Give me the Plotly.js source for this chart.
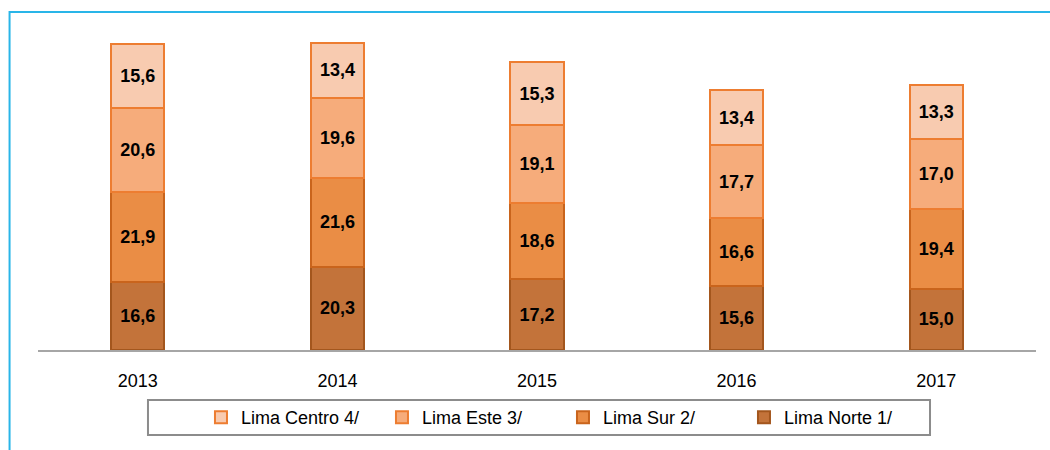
<!DOCTYPE html>
<html>
<head>
<meta charset="utf-8">
<script src="https://cdn.plot.ly/plotly-3.0.1.min.js"></script>
<style>
html,body{margin:0;padding:0;background:#fff;}
#chart{width:1050px;height:450px;}
</style>
</head>
<body>
<div id="chart"></div>
<script>
const years = ['2013', '2014', '2015', '2016', '2017'];
const limaNorte = [16.6, 20.3, 17.2, 15.6, 15.0];
const limaSur = [21.9, 21.6, 18.6, 16.6, 19.4];
const limaEste = [20.6, 19.6, 19.1, 17.7, 17.0];
const limaCentro = [15.6, 13.4, 15.3, 13.4, 13.3];
const seriesNames = ['Lima Norte 1/', 'Lima Sur 2/', 'Lima Este 3/', 'Lima Centro 4/'];

const FONT = '"Liberation Sans", Arial, sans-serif';
const fills = ['#c3733a', '#ea8d45', '#f6ac7b', '#f8cbb0'];
const lines = ['#a3561d', '#c9641c', '#ed7d31', '#ed7d31'];
const values = [limaNorte, limaSur, limaEste, limaCentro];

const traces = values.map((v, i) => ({
  type: 'bar',
  x: years,
  y: v,
  name: seriesNames[i],
  marker: {color: fills[i], line: {color: lines[i], width: 2}},
  texttemplate: '%{y:.1f}',
  textposition: 'inside',
  insidetextanchor: 'middle',
  textangle: 0,
  constraintext: 'none',
  textfont: {family: FONT, size: 18, color: '#000', weight: 'bold'},
  hoverinfo: 'x+y+name'
}));

const layout = {
  width: 1050,
  height: 450,
  margin: {l: 38, r: 14, t: 22, b: 100},
  paper_bgcolor: '#fff',
  plot_bgcolor: '#fff',
  separators: ',.',
  barmode: 'stack',
  bargap: 0.734,
  showlegend: true,
  legend: {
    orientation: 'h',
    traceorder: 'reversed',
    x: 0.1633, xanchor: 'left',
    y: -0.206, yanchor: 'middle',
    font: {family: FONT, size: 18, color: '#000'},
    bgcolor: 'rgba(0,0,0,0)',
    entrywidth: 136,
    entrywidthmode: 'pixels',
    itemwidth: 30
  },
  xaxis: {
    type: 'category',
    showgrid: false,
    zeroline: false,
    showline: true,
    linecolor: '#a6a6a6',
    linewidth: 2,
    ticks: '',
    ticklabelstandoff: 13,
    tickfont: {family: FONT, size: 18, color: '#000'}
  },
  yaxis: {
    range: [0, 80],
    visible: false,
    showgrid: false,
    zeroline: false
  },
  shapes: [
    {type: 'path', xref: 'paper', yref: 'paper',
     path: 'M -0.0285,-0.32 L -0.0285,1.0305 L 1.03,1.0305',
     line: {color: '#29b5e8', width: 2}},
    {type: 'rect', xref: 'paper', yref: 'paper',
     x0: 0.1102, x1: 0.8938, y0: -0.2591, y1: -0.1524,
     line: {color: '#8c8c8c', width: 2}, fillcolor: 'rgba(0,0,0,0)'}
  ]
};

Plotly.newPlot('chart', traces, layout, {displayModeBar: false, staticPlot: true});
</script>
</body>
</html>
